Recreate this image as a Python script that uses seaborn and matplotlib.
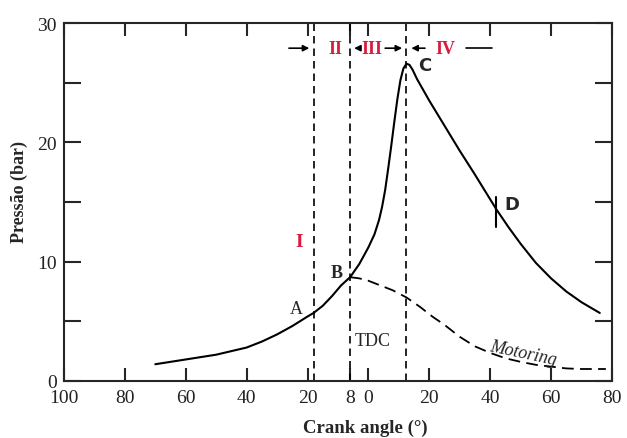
import numpy as np
import pandas as pd
import matplotlib
matplotlib.use("Agg")
import matplotlib.pyplot as plt
import seaborn as sns

# firing pressure curve (crank angle, negative = before TDC)
fire_angle = [-70, -65, -60, -55, -50, -45, -40, -35, -30, -25, -20, -18, -15, -12, -9, -6,
              -3, 0, 2, 3.5, 4.5, 5.5, 6.5, 7.5, 8.5, 9.5, 10.5, 11.5, 12.5, 13.5, 14.5, 16,
              20, 25, 30, 35, 42, 46, 50, 55, 60, 65, 70, 76]
fire_p = [1.4, 1.6, 1.8, 2.0, 2.2, 2.5, 2.8, 3.3, 3.9, 4.6, 5.4, 5.7, 6.3, 7.1, 8.0, 8.7,
          9.8, 11.2, 12.3, 13.5, 14.6, 16.0, 17.8, 19.7, 21.7, 23.6, 25.2, 26.2, 26.6, 26.5, 26.1, 25.3,
          23.5, 21.4, 19.3, 17.3, 14.4, 12.9, 11.5, 9.9, 8.6, 7.5, 6.6, 5.7]

# motoring curve
motor_angle = [-6, -3, 0, 4, 8, 12.5, 17, 21, 25, 30, 35, 40, 45, 50, 55, 60, 65, 70, 78]
motor_p = [8.7, 8.6, 8.4, 8.0, 7.6, 7.0, 6.2, 5.4, 4.7, 3.7, 2.9, 2.35, 1.9, 1.6, 1.35, 1.2, 1.05, 1.0, 1.0]

# phase boundaries
phase_lines = [-18, -6, 12.5]
d_angle = 42

x_ticks = [-100, -80, -60, -40, -20, -6, 0, 20, 40, 60, 80]
x_labels = ["100", "80", "60", "40", "20", "8", "0", "20", "40", "60", "80"]
y_ticks = [0, 10, 20, 30]

fire = pd.DataFrame({"angle": fire_angle, "p": fire_p})
motor = pd.DataFrame({"angle": motor_angle, "p": motor_p})

sns.set_style("ticks")
plt.rcParams["font.family"] = ["Liberation Serif", "DejaVu Serif"]

fig = plt.figure(figsize=(6.27, 4.39), dpi=100)
ax = fig.add_axes([0.102, 0.130, 0.874, 0.815])

sns.lineplot(data=fire, x="angle", y="p", ax=ax, color="black", lw=1.5, sort=False)
sns.lineplot(data=motor, x="angle", y="p", ax=ax, color="black", lw=1.3, sort=False,
             linestyle=(0, (6.5, 3.5)))

for xv in phase_lines:
    ax.axvline(xv, color="black", lw=1.2, linestyle=(0, (4.5, 3)))

ax.plot([d_angle, d_angle], [12.9, 15.4], color="black", lw=1.5)

ax.set_xlim(-100, 80)
ax.set_ylim(0, 30)
ax.set_xticks(x_ticks)
ax.set_xticklabels(x_labels)
ax.set_yticks(y_ticks)
ax.set_yticks([5, 15, 25], minor=True)
ax.tick_params(axis="y", which="both", direction="in", length=12, width=1.5,
               right=True, labelsize=14, pad=5, labelcolor="#222222")
ax.tick_params(axis="x", which="both", direction="in", length=9.5, width=1.5,
               top=True, labelsize=14, pad=6, labelcolor="#222222")
for sp in ax.spines.values():
    sp.set_linewidth(1.5)

ax.set_xlabel("Crank angle (°)", fontsize=13.5, fontweight="bold")
ax.set_ylabel("Pressão (bar)", fontsize=13, fontweight="bold")
ax.xaxis.set_label_coords(0.55, -0.105)
ax.yaxis.set_label_coords(-0.065, 0.53)

red = "#d81b3c"
# phase labels and arrows
ax.annotate("", xy=(-18.5, 27.9), xytext=(-27, 27.9),
            arrowprops=dict(arrowstyle="-|>", color="black", lw=1.2, mutation_scale=9))
ax.text(-10.8, 27.9, "II", color=red, fontsize=13, fontweight="bold", ha="center", va="center")
ax.annotate("", xy=(-5.6, 27.9), xytext=(-2, 27.9),
            arrowprops=dict(arrowstyle="-|>", color="black", lw=1.2, mutation_scale=9))
ax.text(1.2, 27.9, "III", color=red, fontsize=13, fontweight="bold", ha="center", va="center")
ax.annotate("", xy=(12, 27.9), xytext=(4.6, 27.9),
            arrowprops=dict(arrowstyle="-|>", color="black", lw=1.2, mutation_scale=9))
ax.annotate("", xy=(13.2, 27.9), xytext=(19.5, 27.9),
            arrowprops=dict(arrowstyle="-|>", color="black", lw=1.2, mutation_scale=9))
ax.text(25.2, 27.9, "IV", color=red, fontsize=13, fontweight="bold", ha="center", va="center")
ax.plot([32, 40.7], [27.9, 27.9], color="black", lw=1.2)
ax.text(-22.6, 11.7, "I", color=red, fontsize=14, fontweight="bold", ha="center", va="center")

ax.text(-23.6, 6.1, "A", fontsize=13, ha="center", va="center")
ax.text(-10.5, 9.1, "B", fontsize=13, fontweight="bold", ha="center", va="center")
ax.text(18.4, 26.5, "C", fontsize=13, fontweight="bold", ha="center", va="center",
        family=["DejaVu Sans"])
ax.text(47, 14.8, "D", fontsize=13, fontweight="bold", ha="center", va="center",
        family=["DejaVu Sans"])
ax.text(1.3, 3.4, "TDC", fontsize=13, ha="center", va="center")
ax.text(51, 2.4, "Motoring", fontsize=13, style="italic", ha="center", va="center",
        rotation=-12)

fig.savefig("out.png", dpi=100)
